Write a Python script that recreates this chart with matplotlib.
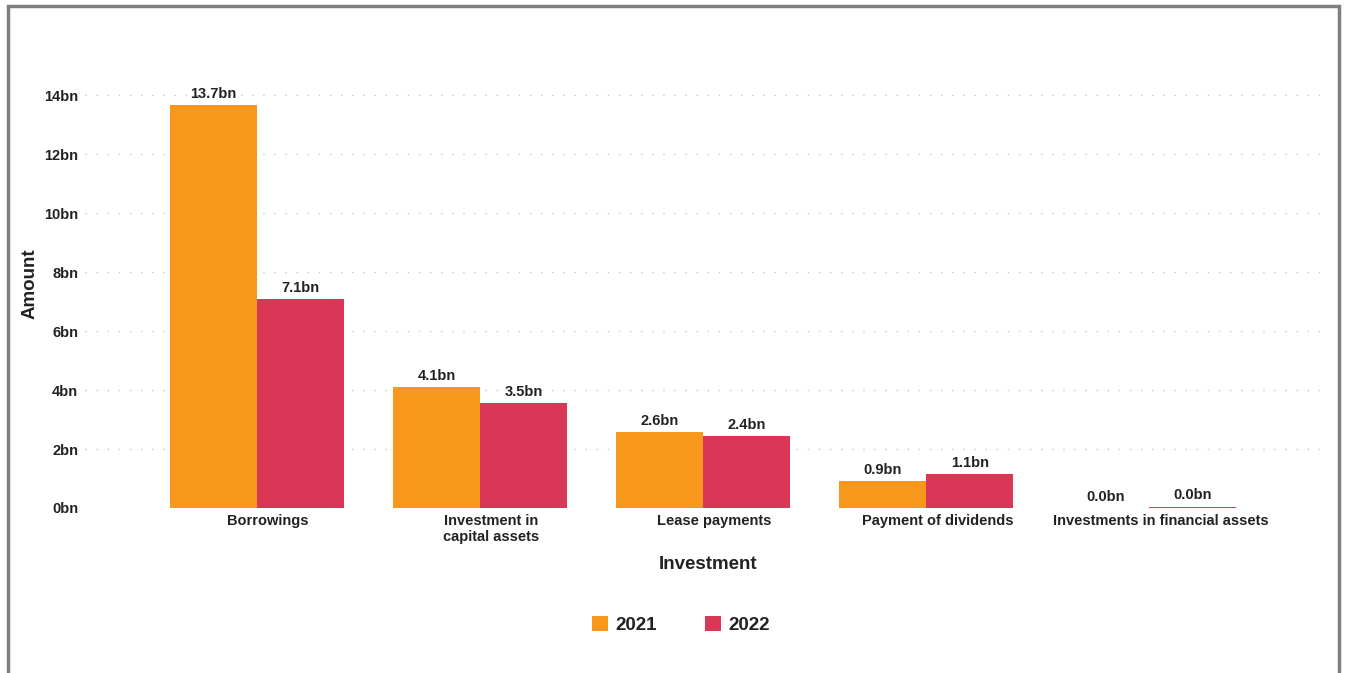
import matplotlib
matplotlib.use('Agg')
import matplotlib.pyplot as plt
from matplotlib.patches import Rectangle, Patch
import numpy as np

categories = ["Borrowings", "Investment in\ncapital assets", "Lease payments",
              "Payment of dividends", "Investments in financial assets"]
years = ["2021", "2022"]
values_2021 = [13.66, 4.10, 2.58, 0.92, 0.0]
values_2022 = [7.08, 3.55, 2.44, 1.14, 0.045]
yticks = [0, 2, 4, 6, 8, 10, 12, 14]

colors = ["#F7981D", "#DA3655"]
textc = "#222222"

plt.rcParams['font.family'] = ['Liberation Sans', 'DejaVu Sans']
plt.rcParams['font.weight'] = 'bold'

fig = plt.figure(figsize=(13.51, 6.73), dpi=100)
ax = fig.add_axes([0.063, 0.2452, 0.9215, 0.6656])

# outer frame of the card
fig.patches.append(Rectangle((0.0058, -0.05), 0.985, 1.0405, transform=fig.transFigure,
                             fill=False, edgecolor="#7f7f7f", linewidth=2.5))

x = np.arange(len(categories))
w = 0.39
series = [values_2021, values_2022]
for i, vals in enumerate(series):
    pos = x + (i - 0.5) * w
    ax.bar(pos, vals, width=w, color=colors[i], zorder=3)
    for p, v in zip(pos, vals):
        ax.annotate("{:.1f}bn".format(v), (p, v), xytext=(0, 3), textcoords="offset points",
                    ha="center", va="bottom", fontsize=10.5, fontweight="bold", color=textc)

ax.set_xlim(-0.77, 4.81)
ax.set_ylim(0, 15.2)
ax.set_yticks(yticks)
ax.set_yticklabels(["{}bn".format(t) for t in yticks])
ax.set_xticks(x + 0.05)
ax.set_xticklabels(categories)
ax.tick_params(axis='both', length=0, labelsize=10.5, labelcolor=textc)
ax.tick_params(axis='y', pad=5)
ax.tick_params(axis='x', pad=4)
for lbl in ax.get_xticklabels() + ax.get_yticklabels():
    lbl.set_fontweight("bold")

ax.grid(axis='y', color="#c8c8c8", linestyle=(0, (1, 7)), linewidth=1, zorder=0)
for s in ax.spines.values():
    s.set_visible(False)

ax.set_ylabel("Amount", fontsize=13.5, fontweight="bold", color=textc, labelpad=4)
ax.set_xlabel("Investment", fontsize=13.5, fontweight="bold", color=textc, labelpad=9)

handles = [Patch(facecolor=c) for c in colors]
fig.legend(handles, years, loc="center", bbox_to_anchor=(0.504, 0.071), ncol=2,
           frameon=False, prop={'size': 13.5, 'weight': 'bold'},
           handlelength=0.85, handleheight=0.85, handletextpad=0.4, columnspacing=2.6,
           labelcolor=textc)

fig.savefig("out.png", dpi=100)
